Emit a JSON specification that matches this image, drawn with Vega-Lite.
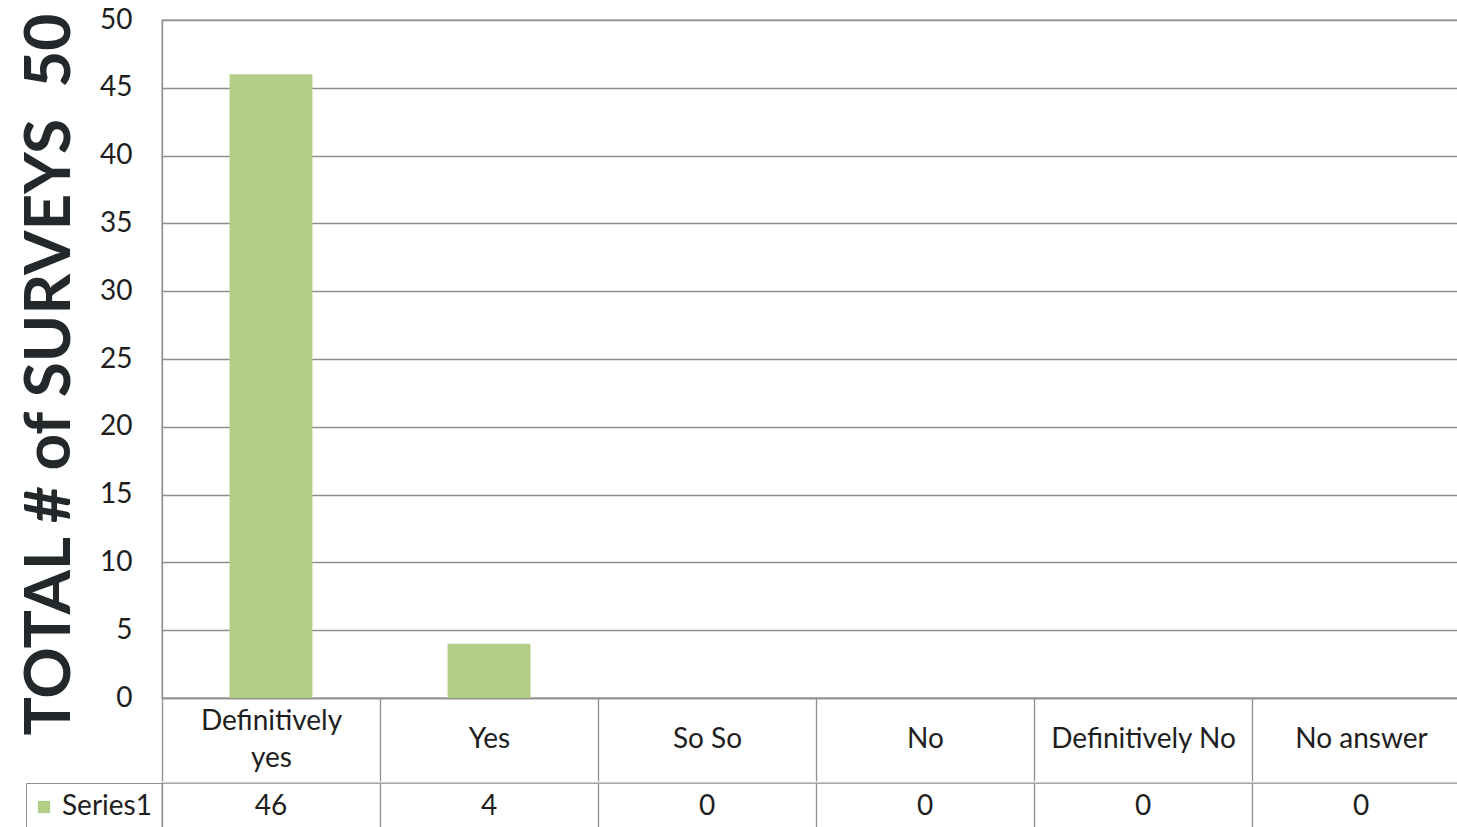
{
  "$schema": "https://vega.github.io/schema/vega-lite/v6.json",
  "padding": {"left": 17, "top": 5, "right": 0, "bottom": 0},
  "background": "white",
  "spacing": -7,
  "resolve": {"legend": {"color": "independent"}},
  "config": {
    "view": {"stroke": "#8f8f8f", "strokeWidth": 1.3},
    "font": "Lato",
    "axis": {"labelFont": "Lato", "titleFont": "Lato", "labelColor": "#1e1e1e", "titleColor": "#23282a"}
  },
  "data": {"values": [
    {"answer": "Definitively yes", "count": 46, "series": "Series1"},
    {"answer": "Yes", "count": 4, "series": "Series1"},
    {"answer": "So So", "count": 0, "series": "Series1"},
    {"answer": "No", "count": 0, "series": "Series1"},
    {"answer": "Definitively No", "count": 0, "series": "Series1"},
    {"answer": "No answer", "count": 0, "series": "Series1"}
  ]},
  "vconcat": [
    {
      "width": 1308,
      "height": 678,
      "mark": {"type": "bar", "color": "#b2ce87", "width": {"band": 0.38}},
      "encoding": {
        "x": {
          "field": "answer", "type": "nominal", "sort": null,
          "scale": {"paddingInner": 0, "paddingOuter": 0},
          "axis": {
            "title": null, "labelAngle": 0, "tickBand": "extent", "tickSize": 83,
            "tickColor": "#8f8f8f", "tickWidth": 1.3, "domainColor": "#8f8f8f", "domainWidth": 1.3,
            "labelPadding": {"condition": {"test": "datum.value == 'Definitively yes'", "value": -60}, "value": -42},
            "labelBaseline": "middle", "labelFontSize": 28,
            "labelLineHeight": 37, "labelLimit": 0,
            "labelExpr": "datum.label == 'Definitively yes' ? ['Definitively', 'yes'] : datum.label"
          }
        },
        "y": {
          "field": "count", "type": "quantitative",
          "scale": {"domain": [0, 50]},
          "axis": {
            "values": [0, 5, 10, 15, 20, 25, 30, 35, 40, 45, 50],
            "title": "TOTAL # of SURVEYS \u00a050", "titleFontSize": 64, "titleFontWeight": "bold",
            "titlePadding": 17, "titleY": 354,
            "ticks": false, "labelPadding": 30, "labelFontSize": 28,
            "domainColor": "#8f8f8f", "domainWidth": 1.3, "gridColor": "#8f8f8f", "gridWidth": 1.3
          }
        }
      }
    },
    {
      "width": 1308,
      "height": 52,
      "layer": [
        {
          "mark": {"type": "text", "fontSize": 28, "font": "Lato", "color": "#1e1e1e", "baseline": "middle", "dy": -2},
          "encoding": {
            "x": {
              "field": "answer", "type": "nominal", "sort": null,
              "scale": {"paddingInner": 0, "paddingOuter": 0},
              "axis": {"title": null, "labels": false, "ticks": false, "domain": false,
                       "grid": true, "tickBand": "extent", "gridColor": "#8f8f8f", "gridWidth": 1.3}
            },
            "text": {"field": "count", "type": "quantitative"}
          }
        },
        {
          "mark": {"type": "square", "opacity": 0},
          "encoding": {
            "x": {"field": "answer", "type": "nominal", "sort": null},
            "color": {
              "field": "series", "type": "nominal",
              "scale": {"range": ["#b2ce87"]},
              "legend": {
                "title": null, "orient": "left", "offset": 0, "padding": 10,
                "strokeColor": "#8f8f8f", "symbolType": "square", "symbolSize": 150,
                "symbolOpacity": 1, "symbolStrokeWidth": 0, "symbolOffset": -6,
                "labelFont": "Lato", "labelFontSize": 28, "labelColor": "#1e1e1e", "labelOffset": 4
              }
            }
          }
        }
      ]
    }
  ]
}
